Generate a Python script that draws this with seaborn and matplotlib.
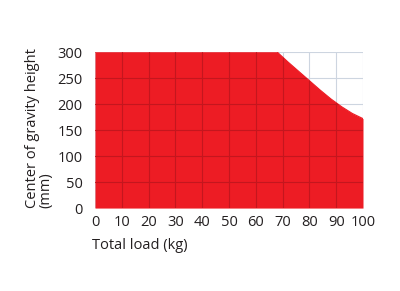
import matplotlib
matplotlib.use("Agg")
import matplotlib.pyplot as plt
import seaborn as sns
import numpy as np

load_kg = [0, 68, 72, 76, 80, 84, 88, 92, 96, 100]
height_mm = [300, 300, 281, 263, 245, 227, 210, 195, 182, 172]
x_ticks = [0, 10, 20, 30, 40, 50, 60, 70, 80, 90, 100]
y_ticks = [0, 50, 100, 150, 200, 250, 300]

sns.set_theme(style="white")
plt.rcParams['font.family'] = ['Open Sans', 'DejaVu Sans']

fig = plt.figure(figsize=(4, 2.91), dpi=100)
ax = fig.add_axes([0.2375, 0.285, 0.67, 0.536])

red = "#ED1C24"
ax.set_xlim(0, 100)
ax.set_ylim(0, 300)

# light grid lines (visible above the curve)
for xv in x_ticks:
    ax.axvline(xv, color="#CDD5E0", lw=0.8, zorder=0)
for yv in y_ticks:
    ax.axhline(yv, color="#CDD5E0", lw=0.8, zorder=0)

poly = ax.fill_between(load_kg, height_mm, 0, color=red, lw=0, zorder=1)
sns.lineplot(x=load_kg, y=height_mm, ax=ax, color=red, lw=0.8, zorder=2)

path = poly.get_paths()[0]
for xv in x_ticks[1:-1]:
    ln = ax.axvline(xv, color="#C4161E", lw=0.8, zorder=3)
    ln.set_clip_path(path, ax.transData)
for yv in y_ticks[1:-1]:
    ln = ax.axhline(yv, color="#C4161E", lw=0.8, zorder=3)
    ln.set_clip_path(path, ax.transData)

ax.set_xticks(x_ticks)
ax.set_yticks(y_ticks)
ax.tick_params(axis="both", length=0, labelsize=10.5, colors="#231F20")
ax.tick_params(axis="y", pad=9)
ax.tick_params(axis="x", pad=5)
for s in ax.spines.values():
    s.set_visible(False)

ax.set_xlabel("Total load (kg)", loc="left", fontsize=10.5, color="#231F20", labelpad=6)
ax.set_ylabel("Center of gravity height\n(mm)", loc="bottom", fontsize=10.5,
              color="#231F20", labelpad=3, linespacing=0.85)
ax.yaxis.label.set_horizontalalignment("left")
ax.yaxis.label.set_multialignment("left")
ax.xaxis.label.set_position((-0.01, 0))

fig.savefig("out.png", dpi=100)
